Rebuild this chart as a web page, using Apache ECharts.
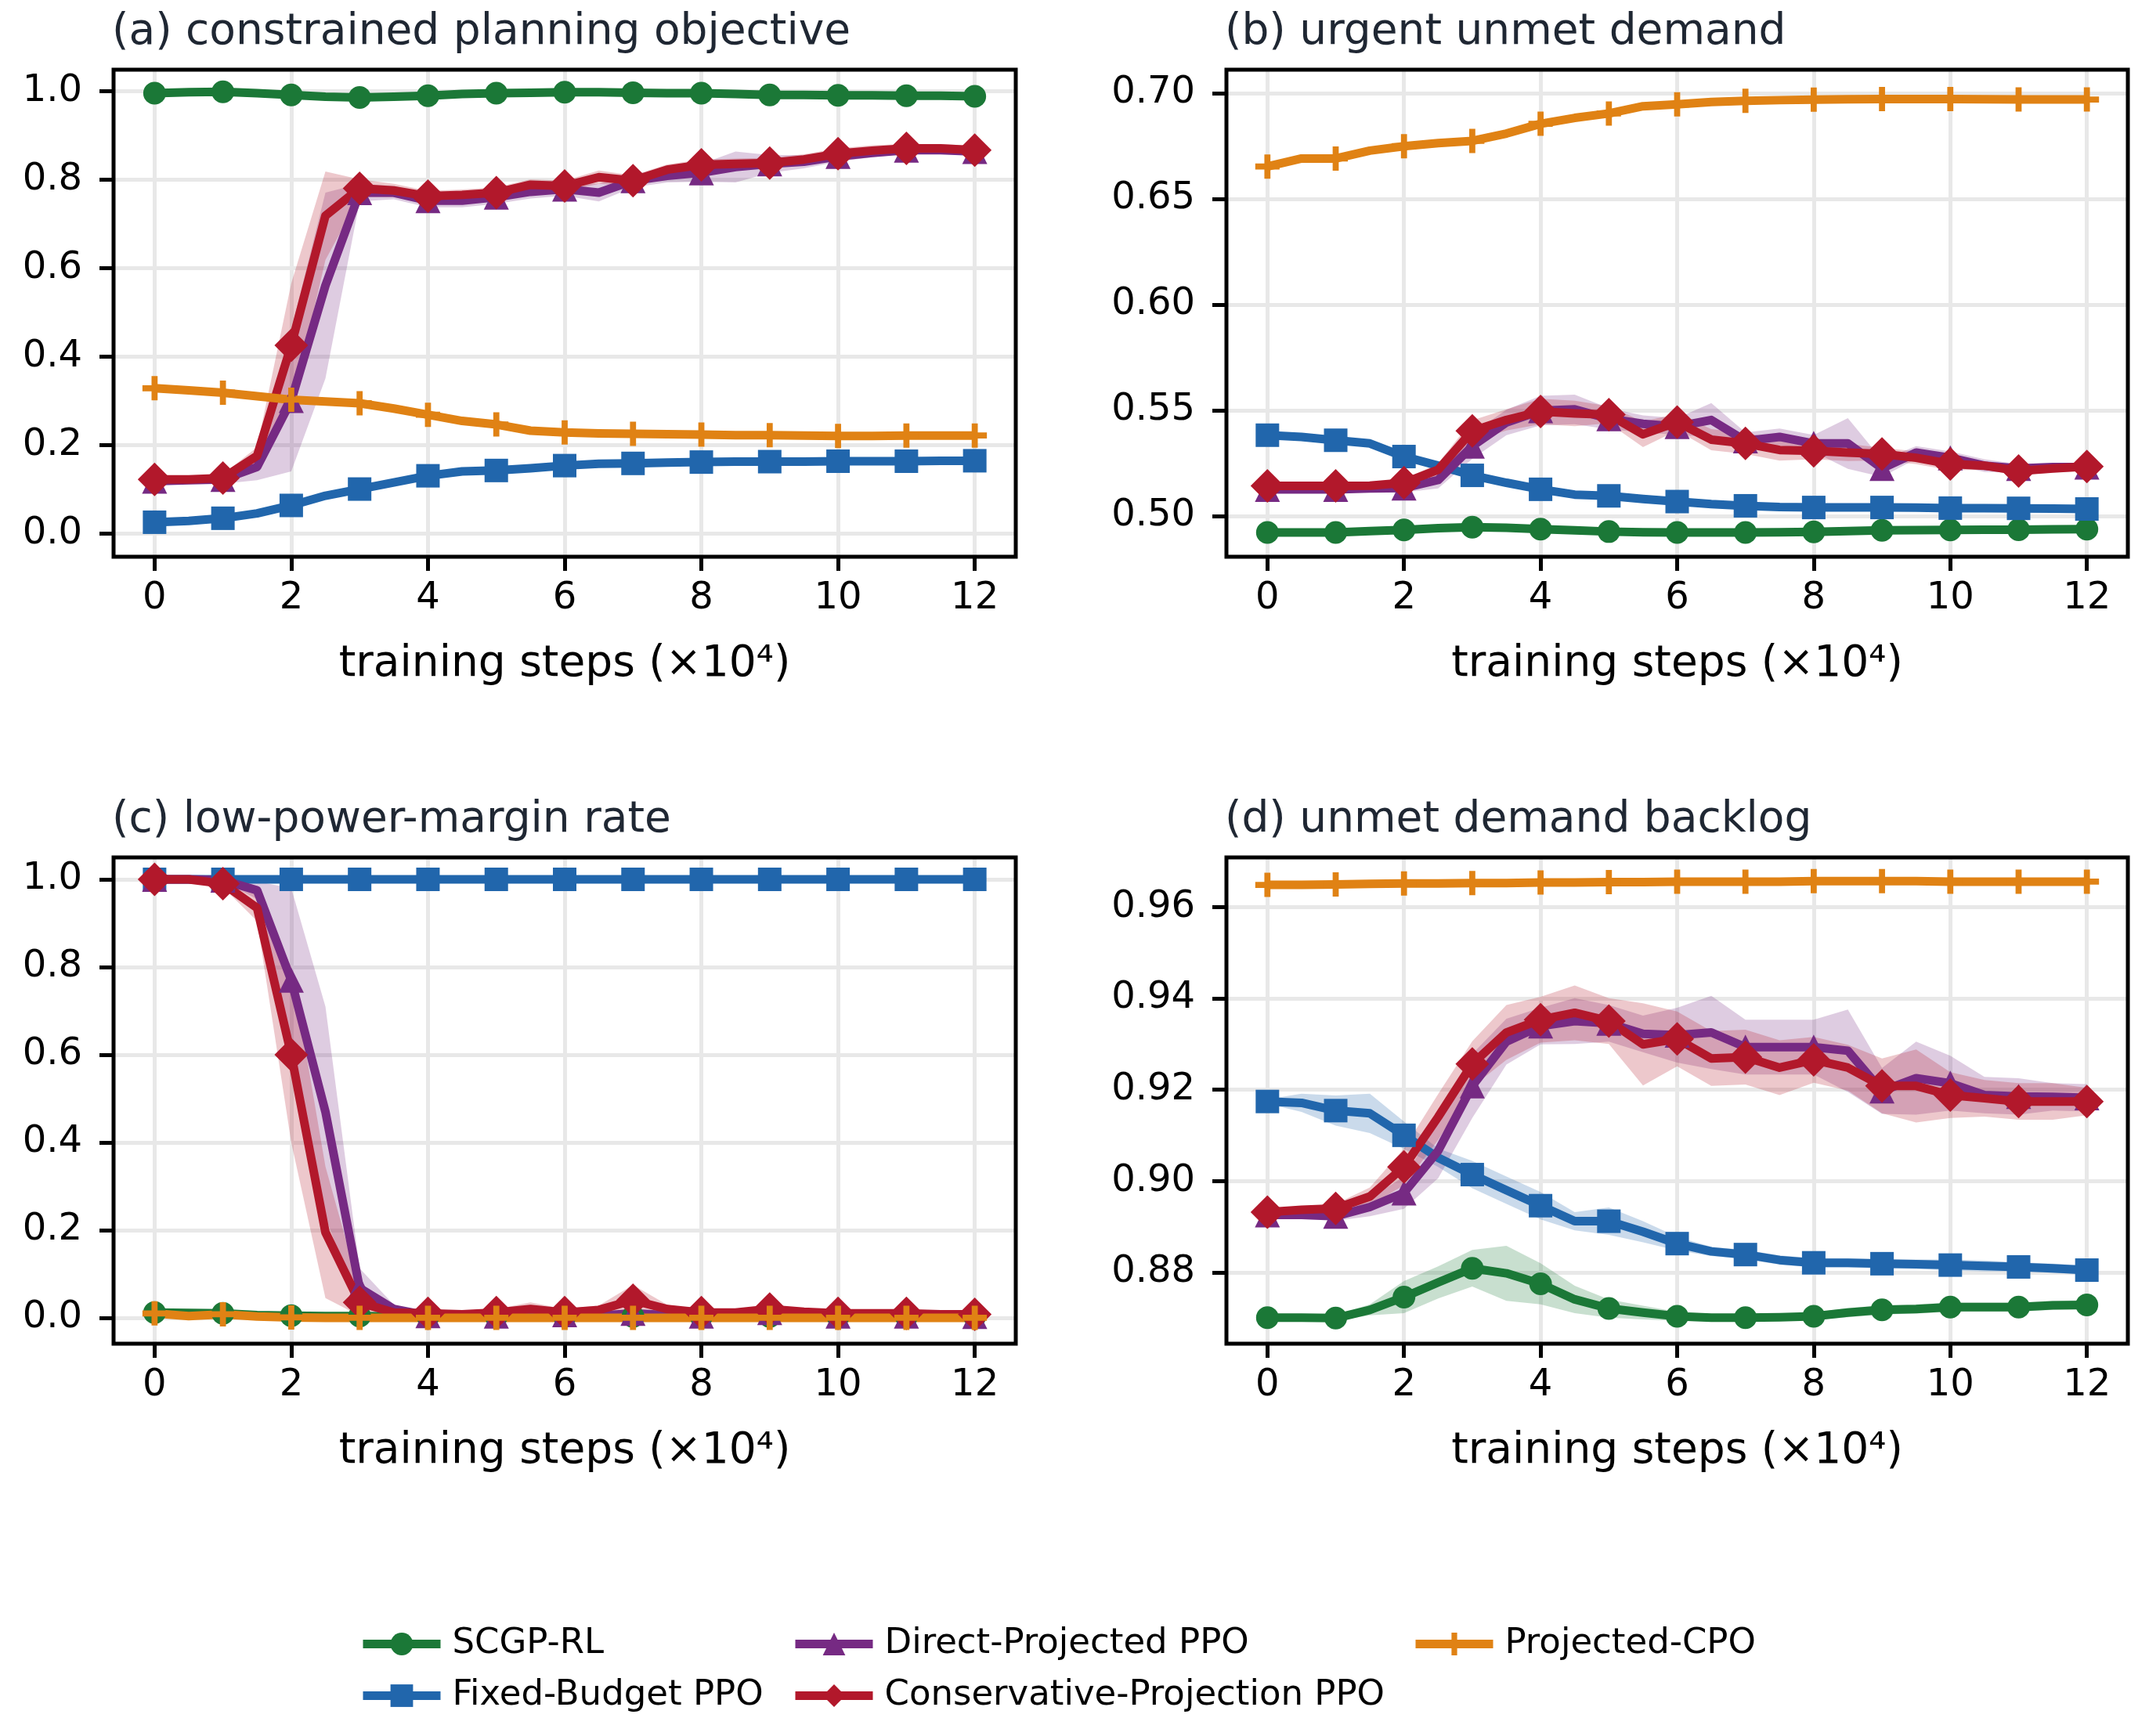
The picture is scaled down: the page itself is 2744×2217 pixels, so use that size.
<!DOCTYPE html>
<html>
<head>
<meta charset="UTF-8">
<title>training curves</title>
<script src="https://cdn.jsdelivr.net/npm/echarts@6.0.0/dist/echarts.min.js"></script>
<style>
    html, body { margin: 0; padding: 0; background: #fff; }
    #chart { width: 2744px; height: 2217px; }
</style>
</head>
<body>
<div id="chart"></div>
<script>
// training steps (x 10^4), one sample every half step
const steps = [0,0.5,1,1.5,2,2.5,3,3.5,4,4.5,5,5.5,6,6.5,7,7.5,8,8.5,9,9.5,10,10.5,11,11.5,12];

// tick labels
const xTicks = [0,2,4,6,8,10,12];
const aTicks = [0,0.2,0.4,0.6,0.8,1.0];
const bTicks = [0.50,0.55,0.60,0.65,0.70];
const cTicks = [0,0.2,0.4,0.6,0.8,1.0];
const dTicks = [0.88,0.90,0.92,0.94,0.96];

// (a) constrained planning objective
const aSCGP    = [0.995,0.997,0.998,0.995,0.991,0.987,0.985,0.987,0.989,0.993,0.995,0.996,0.997,0.997,0.996,0.995,0.995,0.993,0.991,0.991,0.990,0.990,0.989,0.989,0.988];
const aFixed   = [0.025,0.028,0.034,0.045,0.063,0.085,0.100,0.115,0.130,0.140,0.142,0.147,0.153,0.157,0.158,0.160,0.161,0.162,0.162,0.162,0.163,0.163,0.163,0.164,0.164];
const aDirect  = [0.118,0.120,0.122,0.150,0.300,0.560,0.770,0.770,0.752,0.752,0.760,0.772,0.778,0.770,0.797,0.808,0.815,0.828,0.835,0.840,0.852,0.860,0.866,0.866,0.863];
const aConserv = [0.122,0.122,0.125,0.175,0.425,0.718,0.780,0.775,0.762,0.765,0.770,0.788,0.785,0.805,0.797,0.822,0.833,0.835,0.837,0.845,0.858,0.865,0.870,0.870,0.866];
const aCPO     = [0.328,0.323,0.318,0.310,0.302,0.298,0.294,0.282,0.268,0.254,0.246,0.232,0.228,0.226,0.225,0.224,0.223,0.222,0.222,0.221,0.220,0.220,0.221,0.221,0.221];
const aSCGPsd    = [0.002,0.002,0.002,0.002,0.002,0.002,0.002,0.002,0.002,0.002,0.002,0.002,0.002,0.002,0.002,0.002,0.002,0.002,0.002,0.002,0.002,0.002,0.002,0.002,0.002];
const aFixedsd   = [0.004,0.005,0.006,0.008,0.008,0.007,0.006,0.005,0.005,0.004,0.004,0.004,0.004,0.003,0.003,0.003,0.003,0.003,0.003,0.003,0.003,0.003,0.003,0.003,0.003];
const aDirectsd  = [0.005,0.005,0.01,0.03,0.16,0.21,0.02,0.015,0.015,0.015,0.015,0.015,0.015,0.02,0.015,0.015,0.02,0.035,0.02,0.015,0.012,0.01,0.008,0.008,0.008];
const aConservsd = [0.005,0.005,0.008,0.02,0.14,0.1,0.02,0.015,0.012,0.012,0.012,0.012,0.012,0.015,0.012,0.012,0.012,0.012,0.012,0.012,0.012,0.012,0.01,0.01,0.01];
const aCPOsd     = [0.006,0.006,0.006,0.007,0.008,0.007,0.006,0.006,0.006,0.006,0.006,0.005,0.005,0.005,0.005,0.005,0.005,0.005,0.005,0.005,0.005,0.005,0.005,0.005,0.005];

// (b) urgent unmet demand
const bSCGP    = [0.4922,0.4922,0.4922,0.4928,0.4934,0.4942,0.4947,0.4944,0.4938,0.4932,0.4926,0.4923,0.4922,0.4922,0.4922,0.4923,0.4925,0.4928,0.4932,0.4933,0.4934,0.4935,0.4935,0.4937,0.4938];
const bFixed   = [0.5382,0.5374,0.5358,0.5343,0.5281,0.5238,0.5192,0.5157,0.5126,0.5101,0.5095,0.5080,0.5068,0.5056,0.5048,0.5042,0.5040,0.5040,0.5040,0.5039,0.5037,0.5037,0.5036,0.5035,0.5033];
const bDirect  = [0.5126,0.5126,0.5126,0.5130,0.5132,0.5170,0.5330,0.5442,0.5498,0.5504,0.5460,0.5436,0.5423,0.5454,0.5355,0.5374,0.5343,0.5343,0.5225,0.5300,0.5275,0.5238,0.5225,0.5231,0.5231];
const bConserv = [0.5142,0.5142,0.5142,0.5143,0.5157,0.5219,0.5402,0.5454,0.5494,0.5485,0.5479,0.5386,0.5444,0.5361,0.5343,0.5312,0.5308,0.5300,0.5293,0.5275,0.5246,0.5238,0.5213,0.5225,0.5234];
const bCPO     = [0.6653,0.6691,0.6691,0.6728,0.6749,0.6764,0.6774,0.6809,0.6855,0.6883,0.6904,0.6938,0.6947,0.6958,0.6964,0.6967,0.6969,0.6971,0.6972,0.6972,0.6972,0.6971,0.6970,0.6970,0.6970];
const bSCGPsd    = [0.0008,0.0008,0.0008,0.0008,0.0008,0.0008,0.0008,0.0008,0.0008,0.0008,0.0008,0.0008,0.0008,0.0008,0.0008,0.0008,0.0008,0.0008,0.0008,0.0008,0.0008,0.0008,0.0008,0.0008,0.0008];
const bFixedsd   = [0.001,0.0012,0.0015,0.0018,0.0015,0.0012,0.001,0.001,0.001,0.001,0.0008,0.0008,0.0008,0.0008,0.0008,0.0008,0.0008,0.0008,0.0008,0.0008,0.0008,0.0008,0.0008,0.0008,0.0008];
const bDirectsd  = [0.0008,0.0008,0.001,0.0015,0.002,0.004,0.006,0.006,0.007,0.007,0.005,0.004,0.004,0.008,0.004,0.004,0.004,0.012,0.004,0.003,0.003,0.003,0.002,0.002,0.002];
const bConservsd = [0.0008,0.0008,0.0008,0.001,0.0015,0.003,0.005,0.005,0.006,0.006,0.004,0.006,0.004,0.005,0.005,0.005,0.004,0.004,0.003,0.003,0.003,0.002,0.002,0.002,0.002];
const bCPOsd     = [0.0012,0.0012,0.0015,0.0015,0.0015,0.0015,0.0015,0.0012,0.0012,0.0012,0.0012,0.0012,0.0012,0.0012,0.0012,0.0012,0.0012,0.0012,0.0012,0.0012,0.0012,0.0012,0.0012,0.0012,0.0012];

// (c) low-power-margin rate
const cSCGP    = [0.012,0.011,0.010,0.006,0.005,0.004,0.004,0.003,0.003,0.003,0.003,0.003,0.003,0.003,0.003,0.003,0.003,0.003,0.003,0.003,0.003,0.003,0.003,0.003,0.003];
const cFixed   = [1,1,1,1,1,1,1,1,1,1,1,1,1,1,1,1,1,1,1,1,1,1,1,1,1];
const cDirect  = [1.0,1.0,0.998,0.975,0.770,0.470,0.068,0.020,0.005,0.008,0.004,0.006,0.007,0.005,0.010,0.006,0.004,0.010,0.012,0.008,0.004,0.004,0.004,0.003,0.003];
const cConserv = [1.0,1.0,0.990,0.935,0.600,0.195,0.035,0.012,0.010,0.008,0.012,0.020,0.012,0.018,0.040,0.020,0.012,0.012,0.020,0.014,0.010,0.010,0.010,0.008,0.008];
const cCPO     = [0.010,0.004,0.008,0.003,0.001,0,0,0,0,0,0,0,0,0,0,0,0,0,0,0,0,0,0,0,0];
const cSCGPsd    = [0.003,0.003,0.003,0.002,0.002,0.002,0.002,0.001,0.001,0.001,0.001,0.001,0.001,0.001,0.001,0.001,0.001,0.001,0.001,0.001,0.001,0.001,0.001,0.001,0.001];
const cFixedsd   = [0,0,0,0,0,0,0,0,0,0,0,0,0,0,0,0,0,0,0,0,0,0,0,0,0];
const cDirectsd  = [0,0,0.002,0.02,0.21,0.24,0.045,0.01,0.004,0.005,0.004,0.005,0.005,0.005,0.006,0.005,0.004,0.006,0.006,0.005,0.003,0.003,0.003,0.002,0.002];
const cConservsd = [0,0,0.008,0.03,0.2,0.15,0.03,0.008,0.006,0.006,0.008,0.015,0.008,0.01,0.035,0.01,0.006,0.006,0.008,0.006,0.004,0.004,0.004,0.003,0.003];
const cCPOsd     = [0.003,0.002,0.003,0.001,0,0,0,0,0,0,0,0,0,0,0,0,0,0,0,0,0,0,0,0,0];

// (d) unmet demand backlog
const dSCGP    = [0.8701,0.8701,0.8700,0.8718,0.8746,0.8778,0.8809,0.8798,0.8775,0.8741,0.8721,0.8712,0.8704,0.8701,0.8701,0.8702,0.8704,0.8712,0.8718,0.8720,0.8724,0.8724,0.8724,0.8728,0.8729];
const dFixed   = [0.9174,0.9171,0.9154,0.9148,0.9100,0.9051,0.9014,0.8980,0.8946,0.8912,0.8912,0.8889,0.8863,0.8846,0.8839,0.8827,0.8821,0.8821,0.8819,0.8818,0.8816,0.8814,0.8812,0.8809,0.8805];
const dDirect  = [0.8926,0.8926,0.8923,0.8943,0.8974,0.9066,0.9208,0.9305,0.9339,0.9350,0.9345,0.9322,0.9319,0.9325,0.9293,0.9293,0.9293,0.9285,0.9197,0.9225,0.9214,0.9188,0.9185,0.9184,0.9182];
const dConserv = [0.8932,0.8937,0.8940,0.8966,0.9031,0.9140,0.9256,0.9325,0.9353,0.9368,0.9350,0.9299,0.9311,0.9268,0.9271,0.9248,0.9265,0.9248,0.9208,0.9208,0.9188,0.9181,0.9174,0.9174,0.9174];
const dCPO     = [0.9648,0.9648,0.9649,0.9650,0.9651,0.9651,0.9652,0.9652,0.9653,0.9653,0.9654,0.9654,0.9655,0.9655,0.9655,0.9655,0.9656,0.9656,0.9656,0.9656,0.9655,0.9655,0.9655,0.9655,0.9655];
const dSCGPsd    = [0.0004,0.0005,0.0006,0.0012,0.0035,0.0035,0.004,0.006,0.0045,0.003,0.002,0.0015,0.001,0.0008,0.0008,0.0008,0.0008,0.001,0.001,0.001,0.001,0.001,0.001,0.001,0.001];
const dFixedsd   = [0.0005,0.002,0.0033,0.0043,0.003,0.002,0.003,0.003,0.003,0.002,0.003,0.0023,0.0015,0.001,0.001,0.001,0.001,0.001,0.001,0.001,0.0012,0.0012,0.001,0.001,0.001];
const dDirectsd  = [0.0005,0.0005,0.001,0.002,0.0035,0.006,0.007,0.005,0.004,0.005,0.004,0.004,0.006,0.008,0.006,0.006,0.006,0.009,0.005,0.008,0.006,0.004,0.004,0.003,0.003];
const dConservsd = [0.0005,0.0005,0.001,0.002,0.004,0.005,0.005,0.006,0.005,0.006,0.005,0.009,0.006,0.006,0.006,0.006,0.005,0.005,0.006,0.008,0.005,0.004,0.004,0.004,0.003];
const dCPOsd     = [0.0003,0.0003,0.0003,0.0003,0.0003,0.0003,0.0003,0.0003,0.0003,0.0003,0.0003,0.0003,0.0003,0.0003,0.0003,0.0003,0.0003,0.0003,0.0003,0.0003,0.0003,0.0003,0.0003,0.0003,0.0003];

const methods = ['SCGP-RL', 'Fixed-Budget PPO', 'Direct-Projected PPO', 'Conservative-Projection PPO', 'Projected-CPO'];
const colors  = ['#1b7837', '#2166ac', '#762a83', '#b2182b', '#e08214'];
const bandColors = ['rgba(27,120,55,0.24)', 'rgba(33,102,172,0.24)', 'rgba(118,42,131,0.24)', 'rgba(178,24,43,0.24)', 'rgba(224,130,20,0.24)'];
const symbols = ['circle', 'rect', 'triangle', 'diamond', 'path://M3,0h2v3h3v2h-3v3h-2v-3h-3v-2h3z'];
const symbolSizes = [29, 30, 32, 43, 31];

const FONT = 'DejaVu Sans';

const panels = [
    { title: '(a) constrained planning objective', grid: { left: 145, top: 89, width: 1152, height: 622 },
      yMin: -0.053, yMax: 1.048, ticks: aTicks, dec: 1,
      vals: [aSCGP, aFixed, aDirect, aConserv, aCPO], sds: [aSCGPsd, aFixedsd, aDirectsd, aConservsd, aCPOsd] },
    { title: '(b) urgent unmet demand', grid: { left: 1566, top: 89, width: 1151, height: 622 },
      yMin: 0.4807, yMax: 0.7111, ticks: bTicks, dec: 2,
      vals: [bSCGP, bFixed, bDirect, bConserv, bCPO], sds: [bSCGPsd, bFixedsd, bDirectsd, bConservsd, bCPOsd] },
    { title: '(c) low-power-margin rate', grid: { left: 145, top: 1095, width: 1152, height: 621 },
      yMin: -0.059, yMax: 1.05, ticks: cTicks, dec: 1,
      vals: [cSCGP, cFixed, cDirect, cConserv, cCPO], sds: [cSCGPsd, cFixedsd, cDirectsd, cConservsd, cCPOsd] },
    { title: '(d) unmet demand backlog', grid: { left: 1566, top: 1095, width: 1151, height: 621 },
      yMin: 0.8644, yMax: 0.9708, ticks: dTicks, dec: 2,
      vals: [dSCGP, dFixed, dDirect, dConserv, dCPO], sds: [dSCGPsd, dFixedsd, dDirectsd, dConservsd, dCPOsd] }
];

const grids = [], xAxes = [], yAxes = [], titles = [], series = [];

panels.forEach(function (p, pi) {
    grids.push(Object.assign({
        show: true, borderColor: '#000', borderWidth: 5, backgroundColor: 'transparent',
        z: 3, outerBoundsMode: 'none', containLabel: false
    }, p.grid));

    titles.push({
        text: p.title, left: p.grid.left - 2, top: p.grid.top - 75, padding: 0,
        textStyle: { fontSize: 55, fontWeight: 'normal', color: '#1f2733', fontFamily: FONT }
    });

    xAxes.push({
        type: 'value', gridIndex: pi, min: -0.6, max: 12.6, splitNumber: 6,
        axisLine: { show: false, onZero: false },
        axisTick: { show: true, length: 18, lineStyle: { color: '#000', width: 5 }, customValues: xTicks },
        axisLabel: { show: true, customValues: xTicks, margin: 30, fontSize: 48, color: '#000', fontFamily: FONT,
                     formatter: function (v) { return String(v); } },
        splitLine: { show: true, lineStyle: { color: '#e8e8e8', width: 5 } },
        name: 'training steps (×10⁴)', nameLocation: 'middle', nameGap: 110,
        nameTextStyle: { fontSize: 55, fontFamily: FONT, color: '#000' }
    });

    yAxes.push({
        type: 'value', gridIndex: pi, min: p.yMin, max: p.yMax, splitNumber: 5,
        axisLine: { show: false, onZero: false },
        axisTick: { show: true, length: 18, lineStyle: { color: '#000', width: 5 }, customValues: p.ticks },
        axisLabel: { show: true, customValues: p.ticks, margin: 40, fontSize: 48, color: '#000', fontFamily: FONT,
                     formatter: function (v) { return v.toFixed(p.dec); } },
        splitLine: { show: true, lineStyle: { color: '#e8e8e8', width: 5 } }
    });

    // shaded bands (mean +/- spread)
    p.vals.forEach(function (vals, mi) {
        const sd = p.sds[mi];
        series.push({
            type: 'custom', name: 'band', xAxisIndex: pi, yAxisIndex: pi, silent: true, z: 2,
            data: steps.map(function (x, i) { return [x, vals[i] - sd[i], vals[i] + sd[i]]; }),
            encode: { x: 0, y: [1, 2] },
            renderItem: function (params, api) {
                if (params.dataIndex !== 0) return null;
                const pts = [];
                for (let i = 0; i < steps.length; i++) pts.push(api.coord([steps[i], vals[i] + sd[i]]));
                for (let i = steps.length - 1; i >= 0; i--) pts.push(api.coord([steps[i], vals[i] - sd[i]]));
                return { type: 'polygon', shape: { points: pts }, style: { fill: bandColors[mi], stroke: null } };
            }
        });
    });

    // mean curves, marker on every integer step
    p.vals.forEach(function (vals, mi) {
        series.push({
            type: 'line', name: methods[mi], xAxisIndex: pi, yAxisIndex: pi, z: 5,
            symbol: symbols[mi], symbolSize: symbolSizes[mi], showAllSymbol: true,
            data: steps.map(function (x, i) {
                return i % 2 === 0 ? [x, vals[i]] : { value: [x, vals[i]], symbol: 'none' };
            }),
            lineStyle: { color: colors[mi], width: 11, join: 'round', cap: 'butt' },
            itemStyle: { color: colors[mi], borderWidth: 0 },
            emphasis: { disabled: true }
        });
    });
});

function legendCol(names, left) {
    return {
        data: names, orient: 'vertical', left: left, top: 2077, padding: 0,
        itemWidth: 99, itemHeight: 36, itemGap: 21, selectedMode: false,
        lineStyle: { width: 11 },
        textStyle: { fontSize: 45, color: '#000', fontFamily: FONT, padding: [0, 0, 0, 10] }
    };
}

const chart = echarts.init(document.getElementById('chart'));
chart.setOption({
    backgroundColor: '#fff',
    animation: false,
    title: titles,
    legend: [
        legendCol([methods[0], methods[1]], 458),
        legendCol([methods[2], methods[3]], 1010),
        legendCol([methods[4]], 1802)
    ],
    grid: grids,
    xAxis: xAxes,
    yAxis: yAxes,
    series: series
});
</script>
</body>
</html>
